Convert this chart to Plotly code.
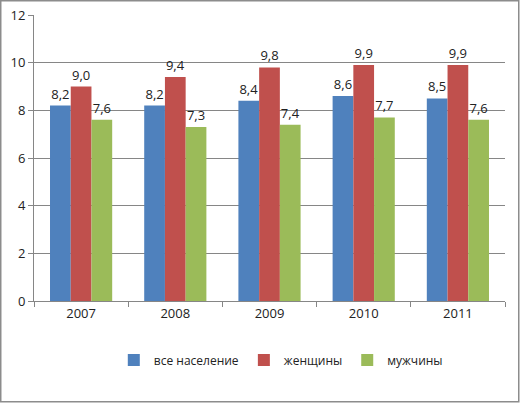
import plotly.graph_objects as go

years = ["2007", "2008", "2009", "2010", "2011"]
all_pop = [8.2, 8.2, 8.4, 8.6, 8.5]
women = [9.0, 9.4, 9.8, 9.9, 9.9]
men = [7.6, 7.3, 7.4, 7.7, 7.6]
series_names = ["все население", "женщины", "мужчины"]
colors = ["#4F81BD", "#C0504D", "#9BBB59"]

def fmt(v):
    return f"{v:.1f}".replace(".", ",")

fig = go.Figure()
for name, vals, c in zip(series_names, [all_pop, women, men], colors):
    fig.add_trace(go.Bar(
        x=years, y=vals, name=name, marker=dict(color=c, line=dict(width=0)),
        text=[fmt(v) for v in vals], textposition="outside",
        textfont=dict(size=13, color="#222222"), cliponaxis=False,
    ))

fig.update_layout(
    width=520, height=403,
    margin=dict(l=34, r=15, t=15, b=102, autoexpand=False),
    paper_bgcolor="white", plot_bgcolor="white",
    barmode="group", bargap=0.34, bargroupgap=0,
    font=dict(family="Open Sans, Lato, sans-serif", size=12, color="#222222"),
    showlegend=True,
    legend=dict(orientation="h", x=0.54, xanchor="center", xref="container",
                y=0.107, yanchor="middle", yref="container",
                font=dict(size=12), traceorder="normal", itemwidth=30),
    shapes=[dict(type="rect", xref="paper", yref="paper", x0=-0.0706, x1=1.0292,
                 y0=-0.3523, y1=1.0498, line=dict(color="#8C8C8C", width=1.5))],
)
fig.update_xaxes(showline=True, linecolor="#868686", ticks="outside", tickson="boundaries",
                 ticklen=5, tickcolor="#868686", showgrid=False,
                 tickfont=dict(size=13))
fig.update_yaxes(range=[0, 12], dtick=2, showline=True, linecolor="#868686",
                 ticks="outside", ticklen=5, tickcolor="#868686",
                 showgrid=True, gridcolor="#868686", gridwidth=1, zeroline=False,
                 tickfont=dict(size=13))

fig.write_html("out.html", config={"displayModeBar": False},
               post_script="document.body.style.margin='0';document.body.style.padding='0';")
